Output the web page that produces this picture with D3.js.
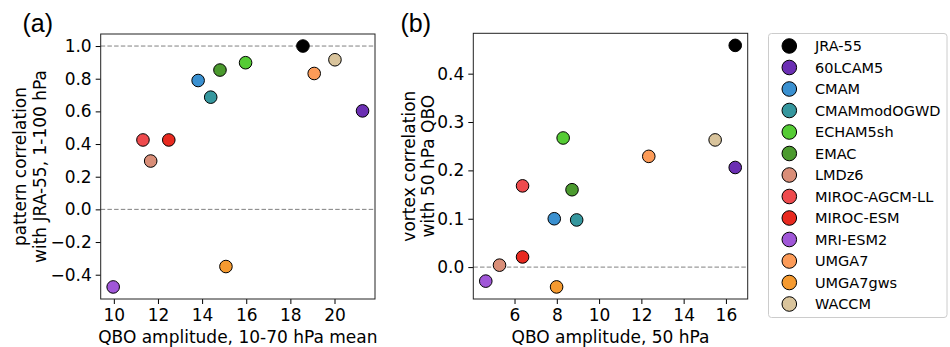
<!DOCTYPE html>
<html>
<head>
<meta charset="utf-8">
<script src="https://cdn.jsdelivr.net/npm/d3@7"></script>
<style>
  body { margin: 0; background: #fff; }
  svg text { font-family: "DejaVu Sans", sans-serif; fill: #000; }
</style>
</head>
<body>
<svg id="chart" width="950" height="347"></svg>
<script>
// models and marker colours (legend order = draw order)
const models = ["JRA-55", "60LCAM5", "CMAM", "CMAMmodOGWD", "ECHAM5sh", "EMAC", "LMDz6",
  "MIROC-AGCM-LL", "MIROC-ESM", "MRI-ESM2", "UMGA7", "UMGA7gws", "WACCM"];
const colors = ["#000000", "#6b2fb3", "#3a90d0", "#35979e", "#55cc35", "#4b9a2e", "#d98e78",
  "#ee4a4d", "#e8291f", "#a057d8", "#fc9b58", "#f59a30", "#d9c49c"];

// panel (a): QBO amplitude 10-70 hPa mean vs pattern correlation
const qboMean = [18.57, 21.27, 13.82, 14.39, 15.97, 14.81, 11.67, 11.32, 12.49, 9.97, 19.08, 15.08, 20.02];
const patternCorr = [1.0, 0.603, 0.789, 0.687, 0.898, 0.853, 0.296, 0.425, 0.425, -0.475, 0.832, -0.350, 0.916];

// panel (b): QBO amplitude 50 hPa vs vortex correlation
const qbo50 = [16.44, 16.44, 7.88, 8.94, 8.30, 8.72, 5.29, 6.38, 6.38, 4.64, 12.35, 7.99, 15.49];
const vortexCorr = [0.4585, 0.206, 0.100, 0.0975, 0.267, 0.160, 0.004, 0.168, 0.021, -0.029, 0.229, -0.041, 0.263];

// tick values
const xTicksA = [10, 12, 14, 16, 18, 20];
const yTicksA = [-0.4, -0.2, 0.0, 0.2, 0.4, 0.6, 0.8, 1.0];
const xTicksB = [6, 8, 10, 12, 14, 16];
const yTicksB = [0.0, 0.1, 0.2, 0.3, 0.4];

const svg = d3.select("#chart");

// matplotlib-like 5% padding around data extent
function padded(vals) {
  const [lo, hi] = d3.extent(vals);
  const p = (hi - lo) * 0.05;
  return [lo - p, hi + p];
}

function drawPanel(opt) {
  const x = d3.scaleLinear().domain(padded(opt.xs)).range([opt.left, opt.right]);
  const y = d3.scaleLinear().domain(padded(opt.ys)).range([opt.bottom, opt.top]);
  const g = svg.append("g");

  // dashed reference lines
  g.selectAll("line.ref")
    .data(opt.refLines)
    .enter()
    .append("line")
    .attr("x1", opt.left)
    .attr("x2", opt.right)
    .attr("y1", d => y(d))
    .attr("y2", d => y(d))
    .attr("stroke", "#808080")
    .attr("stroke-width", 1)
    .attr("stroke-dasharray", "4.5,2.2");

  // axes
  const xa = g.append("g")
    .attr("transform", "translate(0," + opt.bottom + ")")
    .call(d3.axisBottom(x).tickValues(opt.xTicks).tickSize(5).tickPadding(5).tickFormat(d3.format("d")));
  const ya = g.append("g")
    .attr("transform", "translate(" + opt.left + ",0)")
    .call(d3.axisLeft(y).tickValues(opt.yTicks).tickSize(5).tickPadding(4).tickFormat(d3.format(".1f")));
  [xa, ya].forEach(a => {
    a.select(".domain").remove();
    a.selectAll("text").style("font-size", "17px").attr("fill", "#000");
    a.selectAll(".tick line").attr("stroke", "#000");
  });

  // frame
  g.append("rect")
    .attr("x", opt.left)
    .attr("y", opt.top)
    .attr("width", opt.right - opt.left)
    .attr("height", opt.bottom - opt.top)
    .attr("fill", "none")
    .attr("stroke", "#222")
    .attr("stroke-width", 1);

  // points
  g.selectAll("circle.pt")
    .data(models.map((m, i) => ({ m: m, c: colors[i], x: opt.xs[i], y: opt.ys[i] })))
    .enter()
    .append("circle")
    .attr("cx", d => x(d.x))
    .attr("cy", d => y(d.y))
    .attr("r", 6.3)
    .attr("fill", d => d.c)
    .attr("stroke", "#000")
    .attr("stroke-width", 1);

  // x label
  g.append("text")
    .attr("x", (opt.left + opt.right) / 2)
    .attr("y", 343)
    .attr("text-anchor", "middle")
    .style("font-size", "17px")
    .text(opt.xLabel);

  // two-line y label
  const cy = (opt.top + opt.bottom) / 2;
  opt.yLabel.forEach((t, i) => {
    g.append("text")
      .attr("transform", "translate(" + (opt.yLabelX + i * 19.6) + "," + cy + ") rotate(-90)")
      .attr("text-anchor", "middle")
      .style("font-size", "17px")
      .text(t);
  });

  // panel tag
  g.append("text")
    .attr("x", opt.tagX)
    .attr("y", 32)
    .style("font-family", "'Liberation Sans', Arial, sans-serif")
    .style("font-size", "25px")
    .text(opt.tag);
}

drawPanel({
  xs: qboMean, ys: patternCorr,
  left: 100.7, right: 375, top: 34, bottom: 299,
  xTicks: xTicksA, yTicks: yTicksA, refLines: [0, 1],
  xLabel: "QBO amplitude, 10-70 hPa mean",
  yLabel: ["pattern correlation", "with JRA-55, 1-100 hPa"], yLabelX: 26,
  tag: "(a)", tagX: 22.5
});

drawPanel({
  xs: qbo50, ys: vortexCorr,
  left: 473.3, right: 747.7, top: 33.3, bottom: 299,
  xTicks: xTicksB, yTicks: yTicksB, refLines: [0],
  xLabel: "QBO amplitude, 50 hPa",
  yLabel: ["vortex correlation", "with 50 hPa QBO"], yLabelX: 414.5,
  tag: "(b)", tagX: 400.5
});

// legend
const lg = svg.append("g");
lg.append("rect")
  .attr("x", 768.5).attr("y", 33.5)
  .attr("width", 178.5).attr("height", 284)
  .attr("rx", 3)
  .attr("fill", "#fff")
  .attr("stroke", "#cccccc")
  .attr("stroke-width", 1);

const ly = d3.scalePoint().domain(models).range([46, 304]);
const rows = lg.selectAll("g.row")
  .data(models.map((m, i) => ({ m: m, c: colors[i] })))
  .enter()
  .append("g")
  .attr("transform", d => "translate(0," + ly(d.m) + ")");
rows.append("circle")
  .attr("cx", 789.3)
  .attr("r", 7.3)
  .attr("fill", d => d.c)
  .attr("stroke", "#000")
  .attr("stroke-width", 1);
rows.append("text")
  .attr("x", 815)
  .attr("y", 5.2)
  .style("font-size", "14.5px")
  .text(d => d.m);
</script>
</body>
</html>
